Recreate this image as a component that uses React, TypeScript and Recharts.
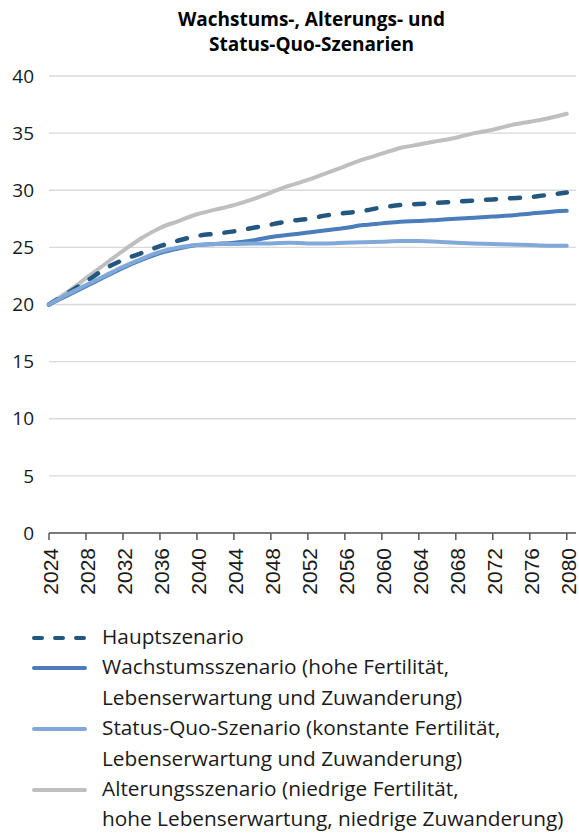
import { CartesianGrid, Line, LineChart, XAxis, YAxis } from "recharts";

const YEARS = [
  2024, 2026, 2028, 2030, 2032, 2034, 2036, 2038, 2040, 2042, 2044, 2046, 2048, 2050, 2052,
  2054, 2056, 2058, 2060, 2062, 2064, 2066, 2068, 2070, 2072, 2074, 2076, 2078, 2080,
];

const HAUPT = [
  20.0, 21.0, 22.0, 23.1, 23.9, 24.5, 25.1, 25.6, 26.0, 26.2, 26.4, 26.7, 27.0, 27.3, 27.5,
  27.8, 28.0, 28.2, 28.5, 28.7, 28.8, 28.9, 29.0, 29.1, 29.2, 29.3, 29.4, 29.6, 29.8,
];

const WACHSTUM = [
  20.0, 20.8, 21.6, 22.4, 23.2, 23.9, 24.5, 24.9, 25.2, 25.3, 25.4, 25.6, 25.9, 26.1, 26.3,
  26.5, 26.7, 26.95, 27.1, 27.25, 27.3, 27.4, 27.5, 27.6, 27.7, 27.8, 27.95, 28.1, 28.2,
];

const STATUS_QUO = [
  20.0, 20.9, 21.7, 22.5, 23.3, 24.0, 24.6, 25.0, 25.2, 25.3, 25.3, 25.35, 25.35, 25.4, 25.35,
  25.35, 25.4, 25.45, 25.5, 25.55, 25.55, 25.5, 25.4, 25.35, 25.3, 25.25, 25.2, 25.15, 25.15,
];

const ALTERUNG = [
  20.0, 21.1, 22.3, 23.5, 24.7, 25.8, 26.7, 27.3, 27.9, 28.3, 28.7, 29.2, 29.8, 30.4, 30.9,
  31.5, 32.1, 32.7, 33.2, 33.7, 34.0, 34.3, 34.6, 35.0, 35.3, 35.7, 36.0, 36.3, 36.7,
];

const X_TICKS = [
  2024, 2028, 2032, 2036, 2040, 2044, 2048, 2052, 2056, 2060, 2064, 2068, 2072, 2076, 2080,
];
const Y_TICKS = [0, 5, 10, 15, 20, 25, 30, 35, 40];

const TITLE_LINES = ["Wachstums-, Alterungs- und", "Status-Quo-Szenarien"];

const LEGEND_HAUPT = ["Hauptszenario"];
const LEGEND_WACHSTUM = ["Wachstumsszenario (hohe Fertilität,", "Lebenserwartung und Zuwanderung)"];
const LEGEND_STATUS_QUO = [
  "Status-Quo-Szenario (konstante Fertilität,",
  "Lebenserwartung und Zuwanderung)",
];
const LEGEND_ALTERUNG = [
  "Alterungsszenario (niedrige Fertilität,",
  "hohe Lebenserwartung, niedrige Zuwanderung)",
];

// Styling per series (kept apart from the values above)
const SERIES = [
  { key: "haupt", values: HAUPT, label: LEGEND_HAUPT, color: "#23577f", dash: "10 14", width: 4.5 },
  { key: "wachstum", values: WACHSTUM, label: LEGEND_WACHSTUM, color: "#4a7dba", dash: undefined, width: 4 },
  { key: "statusQuo", values: STATUS_QUO, label: LEGEND_STATUS_QUO, color: "#80a9d9", dash: undefined, width: 4 },
  { key: "alterung", values: ALTERUNG, label: LEGEND_ALTERUNG, color: "#bfbfbf", dash: undefined, width: 4 },
];

// gray underneath, light blue on top – like the original drawing order
const DRAW_ORDER = ["alterung", "haupt", "wachstum", "statusQuo"];

const WIDTH = 579;
const HEIGHT = 835;
const LABEL_FONT = "'Open Sans', 'Noto Sans', sans-serif";
const TICK_FONT = "'Liberation Sans', Arial, sans-serif";

function YearTick(props: any) {
  const { x, y, payload } = props;
  return (
    <text
      x={x}
      y={y}
      dy={9}
      transform={`rotate(-90 ${x} ${y})`}
      textAnchor="end"
      fontFamily={TICK_FONT}
      fontSize={21}
      fill="#1a1a1a"
    >
      {payload.value}
    </text>
  );
}

function ChartLegend() {
  return (
    <div
      style={{
        position: "absolute",
        left: 0,
        top: 621,
        width: WIDTH,
        fontFamily: LABEL_FONT,
        fontSize: 20.8,
        lineHeight: "30.4px",
        color: "#1a1a1a",
      }}
    >
      {SERIES.map((s) => (
        <div key={s.key} style={{ position: "relative", paddingLeft: 102 }}>
          <svg
            width={70}
            height={30}
            style={{ position: "absolute", left: 24, top: 2 }}
          >
            <line
              x1={10}
              x2={61}
              y1={15}
              y2={15}
              stroke={s.color}
              strokeWidth={4}
              strokeLinecap="round"
              strokeDasharray={s.dash ? "8 13" : undefined}
            />
          </svg>
          {s.label.map((line) => (
            <div key={line} style={{ whiteSpace: "nowrap" }}>
              {line}
            </div>
          ))}
        </div>
      ))}
    </div>
  );
}

export default function App() {
  const data = YEARS.map((year, i) => {
    const row: Record<string, number> = { year };
    for (const s of SERIES) row[s.key] = s.values[i];
    return row;
  });

  const ordered = DRAW_ORDER.map((k) => SERIES.find((s) => s.key === k)!);

  return (
    <div
      style={{
        position: "absolute",
        left: 0,
        top: 0,
        width: WIDTH,
        height: HEIGHT,
        background: "#ffffff",
        overflow: "hidden",
      }}
    >
      <div
        style={{
          position: "absolute",
          top: 7,
          left: 0,
          width: 623,
          textAlign: "center",
          fontFamily: LABEL_FONT,
          fontWeight: 700,
          fontSize: 19,
          lineHeight: "25px",
          color: "#000000",
        }}
      >
        {TITLE_LINES.map((t) => (
          <div key={t}>{t}</div>
        ))}
      </div>

      <LineChart
        width={WIDTH}
        height={HEIGHT}
        data={data}
        margin={{ top: 76, right: 3, bottom: 232, left: 0 }}
      >
        <CartesianGrid vertical={false} stroke="#d9d9d9" strokeWidth={1.3} />
        <XAxis
          dataKey="year"
          type="number"
          domain={[2024, 2081]}
          ticks={X_TICKS}
          interval={0}
          height={70}
          stroke="#595959"
          strokeWidth={1.5}
          tickSize={7}
          tickMargin={8}
          tick={<YearTick />}
        />
        <YAxis
          domain={[0, 40]}
          ticks={Y_TICKS}
          interval={0}
          width={49}
          axisLine={false}
          tickLine={false}
          tickSize={0}
          tickMargin={15}
          tick={{ fontFamily: LABEL_FONT, fontSize: 19, fill: "#1a1a1a" }}
        />
        {ordered.map((s) => (
          <Line
            key={s.key}
            dataKey={s.key}
            type="monotone"
            stroke={s.color}
            strokeWidth={s.width}
            strokeDasharray={s.dash}
            strokeLinecap="round"
            dot={false}
            activeDot={false}
            isAnimationActive={false}
          />
        ))}
      </LineChart>

      <ChartLegend />
    </div>
  );
}
